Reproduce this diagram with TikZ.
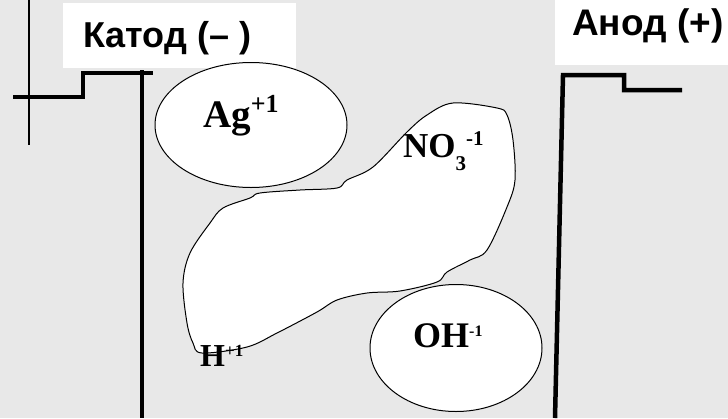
\documentclass[tikz,border=0pt]{standalone}
\usepackage{fontspec}
\setmainfont{Liberation Serif}
\setsansfont{Liberation Sans}
\definecolor{bggray}{RGB}{232,232,232}
\usetikzlibrary{shapes.geometric}
\newcommand{\charge}[3]{\raisebox{#2pt}{\fontsize{#1}{#1}\selectfont #3}}

\begin{document}
\begin{tikzpicture}[x=1pt, y=-1pt,
  electrode/.style={line width=4.5pt, line join=miter},
  ionring/.style={draw, ellipse, fill=white, line width=1pt, inner sep=0pt},
  ion/.style={font=\fontsize{35}{37}\selectfont\bfseries, inner sep=0pt,
    anchor=base west},
  pole/.style={font=\fontsize{36}{38}\selectfont\sffamily\bfseries,
    inner sep=0pt, anchor=base west},
  polebox/.style={fill=white, draw=none},
]
% Background
\fill[bggray] (0,0) rectangle (728,418);
\useasboundingbox (0,0) rectangle (728,418);

% Label boxes
\fill[polebox] (63,3) rectangle (296,68);
\fill[polebox] (555,0) rectangle (728,65);

% Electrodes
\draw[line width=1.5pt] (29,0) -- (29,145);
\draw[electrode] (13,97) -- (83,97) -- (83,73) -- (153,73);
\draw[electrode] (142,70) -- (142,418);
\draw[electrode] (555,418) -- (563,75) -- (624,75) -- (624,90) -- (682,90);

% Ions
\node[ionring, minimum width=192pt, minimum height=125pt] (agring) at (251,125) {};
\node[ionring, minimum width=172pt, minimum height=127pt] (ohring) at (456,348) {};
\draw[fill=white, line width=1pt] plot[smooth cycle, tension=0.55] coordinates {
  (453,103) (427,115) (407,132) (373,167) (347,180) (337,188) (300,190)
  (260,193) (250,198) (223,208) (210,223) (190,253) (183,283) (187,323)
  (193,343) (202,353) (247,347) (277,333) (317,312) (337,300) (367,293)
  (400,291) (437,282) (447,272) (470,260) (487,250) (507,207) (515,180)
  (513,140) (507,115) (497,108)};

% Labels
\node[pole] (cathode) at (83,47) {Катод (– )};
\node[pole, font=\fontsize{37}{40}\selectfont\sffamily\bfseries] (anode)
  at (572,35) {Анод (+)};
\node[ion, font=\fontsize{39}{41}\selectfont\bfseries] (ag) at (203,127)
  {Ag\charge{26}{15}{+1}};
\node[ion] (no3) at (403,157)
  {NO\raisebox{-13pt}{\fontsize{21}{21}\selectfont 3}\charge{21}{12}{-1}};
\node[ion, font=\fontsize{36}{38}\selectfont\bfseries] (oh) at (413,347)
  {OH\charge{16}{11}{-1}};
\node[ion, font=\fontsize{32}{34}\selectfont\bfseries] (h) at (200,366)
  {H\charge{17}{10}{+1}};
\end{tikzpicture}
\end{document}
